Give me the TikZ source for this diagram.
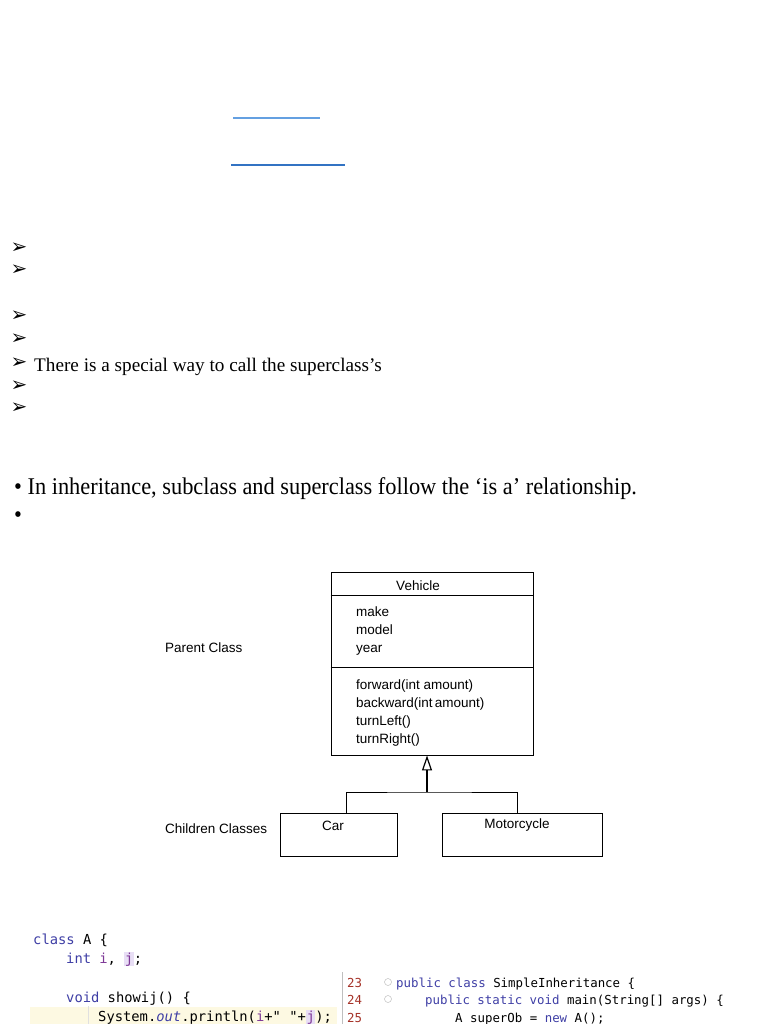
\documentclass[tikz,border=0pt]{standalone}
\usepackage{fontspec}
\setmainfont{Liberation Serif}
\newfontfamily\umlfont{Liberation Sans}
\newfontfamily\codefont{DejaVu Sans Mono}
\newfontfamily\symfont{DejaVu Sans}
\usetikzlibrary{arrows.meta,positioning}
\definecolor{linkA}{RGB}{100,160,225}
\definecolor{linkB}{RGB}{50,115,195}
\definecolor{kw}{RGB}{62,62,165}
\definecolor{fld}{RGB}{125,55,150}
\definecolor{lnum}{RGB}{165,50,40}
\definecolor{hlline}{RGB}{253,249,226}
\definecolor{hlvar}{RGB}{232,222,245}
\newcommand{\kw}[1]{\textcolor{kw}{#1}}
\newcommand{\fj}{{\setlength{\fboxsep}{0.6pt}\colorbox{hlvar}{\textcolor{fld}{j}}}}

\begin{document}
\begin{tikzpicture}[x=1pt,y=-1pt,
  arrowbul/.style={font=\symfont\fontsize{20}{20}\selectfont,inner sep=0pt},
  bodytext/.style={anchor=base west,inner sep=0pt},
  umlbox/.style={draw,line width=0.9pt,inner sep=0pt},
  umltext/.style={font=\umlfont\fontsize{13.5}{16}\selectfont,inner sep=0pt},
  codeL/.style={anchor=base west,inner sep=0pt,font=\codefont\fontsize{13.8}{16}\selectfont},
  codeR/.style={anchor=base west,inner sep=0pt,font=\codefont\fontsize{12.4}{15}\selectfont}]
\useasboundingbox (0,0) rectangle (768,1024);
% link underlines
\draw[linkA,line width=1.2pt] (233,118) -- (320,118);
\draw[linkB,line width=1.2pt] (231,165) -- (345,165);
% arrow bullets
\foreach \yy/\nm in {248/a,270/b,316/c,339/d,363/e,386/f,408/g}{
  \node[arrowbul] (bul\nm) at (19,\yy) {➢};
}
\node[bodytext,font=\fontsize{19.2}{22}\selectfont] (super) at (34,371)
  {There is a special way to call the superclass’s};
% is-a bullets
\node[bodytext,font=\fontsize{24}{27}\selectfont] (isa) at (14,494)
  {\scalebox{0.932}[1]{• In inheritance, subclass and superclass follow the ‘is a’ relationship.}};
\node[bodytext,font=\fontsize{24}{27}\selectfont] (emptybul) at (14,522)
  {\scalebox{0.932}[1]{•}};
% UML: parent class
\node[umlbox,minimum width=202,minimum height=183] (vehicle) at (432,663.5) {};
\draw[line width=0.9pt] (vehicle.west |- 0,595) -- (vehicle.east |- 0,595);
\draw[line width=0.9pt] (vehicle.west |- 0,667) -- (vehicle.east |- 0,667);
\node[umltext] (vname) at (418,586) {Vehicle};
\foreach \yy/\txt [count=\i] in {616/make,634/model,652/year,
    689/forward(int amount),707/backward(int\,amount),725/turnLeft(),743/turnRight()}{
  \node[umltext,anchor=base west] (vmem\i) at (356,\yy) {\txt};
}
\node[umltext,anchor=base west] (parentlbl) at (165,652) {Parent Class};
% UML: children
\node[umlbox,minimum width=117,minimum height=43] (car) at (338.5,834.5) {};
\node[umlbox,minimum width=160,minimum height=43] (moto) at (522,834.5) {};
\node[umltext] (carname) at (333,826) {Car};
\node[umltext] (motoname) at (517,825) {Motorcycle};
\node[umltext,anchor=base west] (childlbl) at (165,833) {Children Classes};
\coordinate (join) at (427,792);
\draw[line width=0.9pt] (car.north -| 346,0) |- (join) -| (moto.north -| 517,0);
\draw[line width=1.6pt,-{Triangle[open,width=10pt,length=15pt,line width=1.2pt]}]
  (join) -- (join |- vehicle.south);
% code: class A
\fill[hlline] (30,1007) rectangle (337,1024);
\draw[black!12,line width=0.6pt] (88,1006) -- (88,1024);
\node[codeL] (codeA1) at (33,944) {\kw{class} A \{};
\node[codeL] (codeA2) at (66,963) {\kw{int} \textcolor{fld}{i}, \fj;};
\node[codeL] (codeA3) at (66,1002) {\kw{void} showij() \{};
\node[codeL] (codeA4) at (98,1021)
  {System.\textcolor{kw}{\itshape out}.println(\textcolor{fld}{i}+"~"+\fj);};
% code: SimpleInheritance
\draw[black!25,line width=0.8pt] (342,972) -- (342,1024);
\foreach \yy/\nn in {987/23,1004/24,1022/25}{
  \node[codeR,text=lnum] (ln\nn) at (347,\yy) {\nn};
}
\foreach \yy in {982,999}{
  \draw[black!25,line width=0.5pt] (388,\yy) circle (3.5);
}
\node[codeR] (codeB1) at (396,987) {\kw{public} \kw{class} SimpleInheritance \{};
\node[codeR] (codeB2) at (425,1004) {\kw{public} \kw{static} \kw{void} main(String[] args) \{};
\node[codeR] (codeB3) at (455,1022) {A superOb = \kw{new} A();};
\end{tikzpicture}
\end{document}
